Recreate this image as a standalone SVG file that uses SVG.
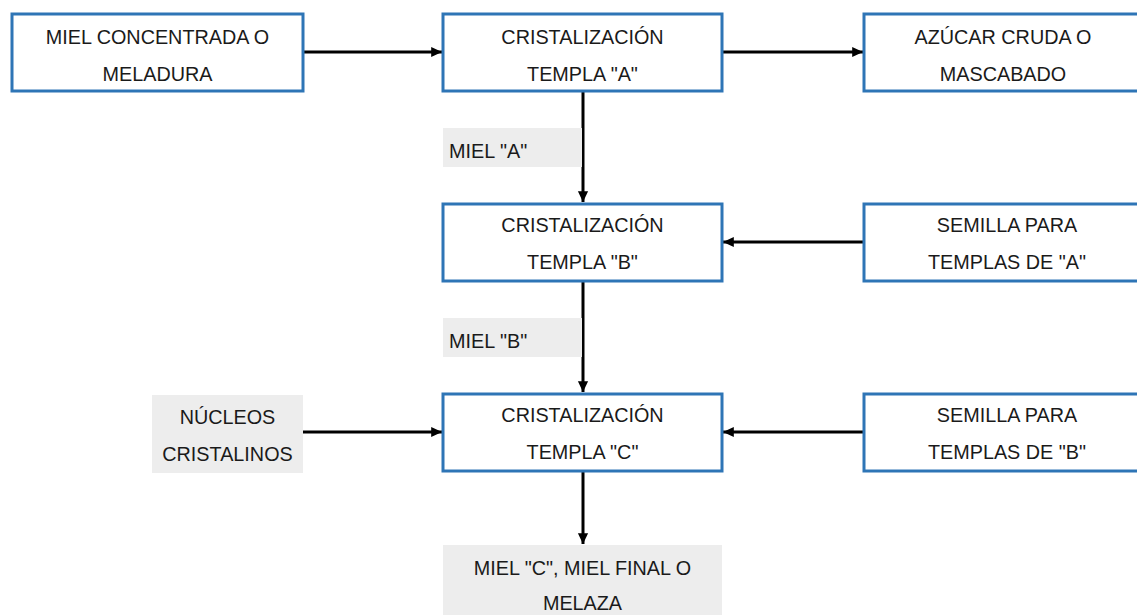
<svg xmlns="http://www.w3.org/2000/svg" width="1137" height="615" viewBox="0 0 1137 615">
<style>
.box{fill:#ffffff;stroke:#2E75B6;stroke-width:3}
.gray{fill:#EDEDED;stroke:none}
text{font-family:"Liberation Sans",Arial,sans-serif;font-size:19.8px;fill:#1a1a1a;text-anchor:middle}
.left{text-anchor:start}
.conn{stroke:#000;stroke-width:3;fill:none;marker-end:url(#ah)}
</style>
<defs>
<marker id="ah" markerWidth="4" markerHeight="4" refX="3.6" refY="2" orient="auto" markerUnits="strokeWidth">
<path d="M0,0.3 L3.6,2 L0,3.7 z" fill="#000"/>
</marker>
</defs>
<rect width="1137" height="615" fill="#ffffff"/>
<g id="connectors">
<line class="conn" x1="304" y1="52" x2="442" y2="52"/>
<line class="conn" x1="722" y1="52" x2="863" y2="52"/>
<line class="conn" x1="583" y1="92" x2="583" y2="202"/>
<line class="conn" x1="863" y1="242" x2="723" y2="242"/>
<line class="conn" x1="583" y1="282" x2="583" y2="392"/>
<line class="conn" x1="303" y1="432" x2="442" y2="432"/>
<line class="conn" x1="863" y1="432" x2="723" y2="432"/>
<line class="conn" x1="583" y1="471" x2="583" y2="544"/>
</g>
<g id="n-miel-concentrada">
<rect class="box" x="12" y="14" width="291" height="77"/>
<text x="157.5" y="44">MIEL CONCENTRADA O</text>
<text x="157.5" y="81">MELADURA</text>
</g>
<g id="n-templa-a">
<rect class="box" x="443" y="14" width="279" height="77"/>
<text x="582.5" y="44">CRISTALIZACIÓN</text>
<text x="582.5" y="81">TEMPLA "A"</text>
</g>
<g id="n-azucar-cruda">
<rect class="box" x="864" y="14" width="290" height="77"/>
<text x="1003" y="44">AZÚCAR CRUDA O</text>
<text x="1003" y="81">MASCABADO</text>
</g>
<g id="l-miel-a">
<rect class="gray" x="443" y="128" width="139" height="39"/>
<text class="left" x="449" y="158">MIEL "A"</text>
</g>
<g id="n-templa-b">
<rect class="box" x="443" y="204" width="279" height="77"/>
<text x="582.5" y="232">CRISTALIZACIÓN</text>
<text x="582.5" y="269">TEMPLA "B"</text>
</g>
<g id="n-semilla-a">
<rect class="box" x="864" y="204" width="290" height="77"/>
<text x="1007" y="232">SEMILLA PARA</text>
<text x="1007" y="269">TEMPLAS DE "A"</text>
</g>
<g id="l-miel-b">
<rect class="gray" x="443" y="318" width="139" height="39"/>
<text class="left" x="449" y="348">MIEL "B"</text>
</g>
<g id="n-nucleos">
<rect class="gray" x="152" y="395" width="151" height="78"/>
<text x="227.5" y="424">NÚCLEOS</text>
<text x="227.5" y="461">CRISTALINOS</text>
</g>
<g id="n-templa-c">
<rect class="box" x="443" y="394" width="279" height="77"/>
<text x="582.5" y="422">CRISTALIZACIÓN</text>
<text x="582.5" y="459">TEMPLA "C"</text>
</g>
<g id="n-semilla-b">
<rect class="box" x="864" y="394" width="290" height="77"/>
<text x="1007" y="422">SEMILLA PARA</text>
<text x="1007" y="459">TEMPLAS DE "B"</text>
</g>
<g id="n-miel-c">
<rect class="gray" x="443" y="545" width="279" height="75"/>
<text x="582.5" y="575">MIEL "C", MIEL FINAL O</text>
<text x="582.5" y="610">MELAZA</text>
</g>
</svg>
